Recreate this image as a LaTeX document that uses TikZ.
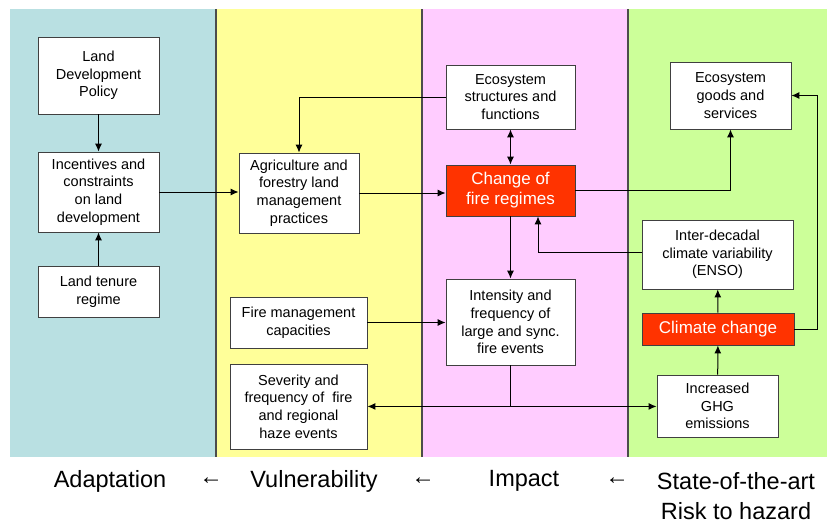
\documentclass[tikz,border=0pt]{standalone}
\usepackage{fontspec}
\setmainfont{Liberation Sans}
\usepackage{tikz}
\usetikzlibrary{shapes,arrows.meta,positioning}

\definecolor{adaptcol}{RGB}{185,224,226}
\definecolor{vulncol}{RGB}{255,255,153}
\definecolor{impactcol}{RGB}{255,204,255}
\definecolor{hazardcol}{RGB}{204,255,153}
\definecolor{firered}{RGB}{255,51,0}

\begin{document}
\begin{tikzpicture}[x=1pt,y=-1pt,>={Latex[length=8pt,width=7pt]}]
    \tikzstyle{block} = [draw=black!75, fill=white, line width=0.9pt, shape=rectangle, inner sep=0pt, align=center, font=\fontsize{14.5}{17.7}\selectfont];
    \tikzstyle{hot} = [block, fill=firered, text=white, font=\fontsize{17}{20}\selectfont];
    \tikzstyle{phase} = [align=center, font=\fontsize{23.5}{30}\selectfont];
    \tikzstyle{link} = [line width=1pt];

    \useasboundingbox (0,0) rectangle (827,525);

    % Panels
    \fill[adaptcol] (10,9) rectangle (216,457);
    \fill[vulncol] (216,9) rectangle (422,457);
    \fill[impactcol] (422,9) rectangle (628,457);
    \fill[hazardcol] (628,9) rectangle (827,457);
    \draw[black!70, line width=1.2pt] (216,9) -- (216,457);
    \draw[black!70, line width=1.2pt] (422,9) -- (422,457);
    \draw[black!70, line width=1.2pt] (628,9) -- (628,457);

    % Nodes
    \node [block, minimum width=121, minimum height=77] (policy) at (98.5,75.5) {Land\\Development\\Policy};
    \node [block, minimum width=121, minimum height=80] (incentives) at (98.5,192) {Incentives and\\constraints\\on land\\development};
    \node [block, minimum width=121, minimum height=51] (tenure) at (98.5,291.5) {Land tenure\\regime};
    \node [block, minimum width=120, minimum height=80] (practices) at (299,193) {Agriculture and\\forestry land\\management\\practices};
    \node [block, minimum width=137, minimum height=51] (capacities) at (298.5,322.5) {Fire management\\capacities};
    \node [block, minimum width=137, minimum height=85] (severity) at (298.5,406.5) {Severity and\\frequency of \ fire\\and regional\\haze events};
    \node [block, minimum width=129, minimum height=64] (structures) at (510.5,97) {Ecosystem\\structures and\\functions};
    \node [hot, minimum width=129, minimum height=51] (regimes) at (510.5,190.5) {Change of\\fire regimes};
    \node [block, minimum width=129, minimum height=86] (intensity) at (510.5,322) {Intensity and\\frequency of\\large and sync.\\fire events};
    \node [block, minimum width=121, minimum height=67] (goods) at (730.5,95.5) {Ecosystem\\goods and\\services};
    \node [block, minimum width=151, minimum height=69] (enso) at (717.5,254.5) {Inter-decadal\\climate variability\\(ENSO)};
    \node [hot, minimum width=152, minimum height=32] (climate) at (718,329) {Climate change};
    \node [block, minimum width=121, minimum height=62] (ghg) at (717.5,406) {Increased\\GHG\\emissions};

    % Paths
    \draw [link,->] (policy) -- (incentives);
    \draw [link,->] (tenure) -- (incentives);
    \draw [link,->] (incentives.east) -- (incentives.east -| practices.west);
    \draw [link,->] (structures.west) -| (practices.north);
    \draw [link,->] (practices.east) -- (practices.east -| regimes.west);
    \draw [link,<->] (structures) -- (regimes);
    \draw [link,->] (regimes.east) -| (goods.south);
    \draw [link,->] (regimes) -- (intensity);
    \draw [link,->] ([yshift=2.5]enso.west) -| ([xshift=27.5]regimes.south);
    \draw [link,->] (climate) -- (enso);
    \draw [link,->] (climate.east) -- ++(23,0) |- (goods.east);
    \draw [link,->] (ghg) -- (climate);
    \draw [link,->] (capacities) -- (capacities -| intensity.west);
    \draw [link] (intensity.south) -- ++(0,41) coordinate (split);
    \draw [link,->] (split) -- (split -| severity.east);
    \draw [link,->] (split) -- (split -| ghg.west);

    % Phases
    \node [phase] (adaptation) at (110,481) {Adaptation};
    \node [phase] (arrowA) at (211,481) {←};
    \node [phase] (vulnerability) at (314,481) {Vulnerability};
    \node [phase] (arrowB) at (423,481) {←};
    \node [phase] (impact) at (524,481) {Impact};
    \node [phase] (arrowC) at (617,481) {←};
    \node [phase] (hazard) at (736,496) {State-of-the-art\\Risk to hazard};
\end{tikzpicture}
\end{document}
